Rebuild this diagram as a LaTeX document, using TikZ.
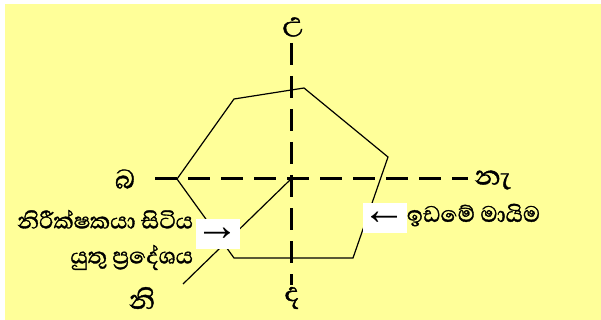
\documentclass[tikz,border=0pt]{standalone}
\usepackage{fontspec}
\newfontfamily\sinhalafont[Script=Sinhala, FakeBold=1.2]{Abhaya Libre}
\newfontfamily\arrowfont{Liberation Sans}
\usetikzlibrary{positioning}
\definecolor{notepad}{HTML}{FFFF99}
\tikzset{
  cmp label/.style={
    font=\sinhalafont\fontsize{34}{34}\selectfont, inner sep=0pt
  },
  cmp note/.style={
    font=\sinhalafont\fontsize{28.5}{35}\selectfont,
    inner sep=0pt, align=right
  },
  cmp axis/.style={
    line width=3pt, dash pattern=on 22pt off 11pt
  },
  cmp plot/.style={
    line width=1.2pt, line join=miter
  },
  cmp arrow box/.style={
    fill=white, minimum width=41pt, minimum height=30pt,
    inner sep=0pt, font=\arrowfont\fontsize{44}{44}\selectfont
  }
}

\begin{document}
\begin{tikzpicture}[x=1pt, y=-1pt]
  \useasboundingbox (0,0) rectangle (601,320);
  \fill[notepad] (5,4) rectangle (601,320);

  % boundary of the land
  \coordinate (p1) at (234,99);
  \coordinate (p2) at (304,88);
  \coordinate (p3) at (388,157);
  \coordinate (p4) at (353,258);
  \coordinate (p5) at (234,258);
  \coordinate (p6) at (177,179);
  \draw[cmp plot] (p1) -- (p2) -- (p3) -- (p4) -- (p5) -- (p6) -- cycle;

  % axes
  \coordinate (o) at (291,179);
  \coordinate (nend) at (291,43);
  \coordinate (send) at (291,285);
  \coordinate (wend) at (155,179);
  \coordinate (eend) at (468,179);
  \coordinate (swend) at (183,284);
  \draw[cmp plot] (o) -- (swend);
  \draw[cmp axis] (wend) -- (eend);
  \draw[cmp axis] (nend) -- (send);

  \node (lbox) [cmp arrow box] at (217.5,234) {→};
  \node (rbox) [cmp arrow box] at (384.5,218) {←};

  \node (north) [cmp label] at (293,27) {උ};
  \node (west) [cmp label] at (125,179) {බ};
  \node (east) [cmp label] at (493,180) {නැ};
  \node (south) [cmp label] at (292,298) {ද};
  \node (sw) [cmp label] at (142,298) {නි};

  \node (observer) [cmp note, left=2pt of lbox, yshift=-6pt]
    {නිරීක්ෂකයා සිටිය\\යුතු ප්‍රදේශය};
  \node (border) [cmp note, right=0pt of rbox, yshift=3pt] {ඉඩමේ මායිම};
\end{tikzpicture}
\end{document}
